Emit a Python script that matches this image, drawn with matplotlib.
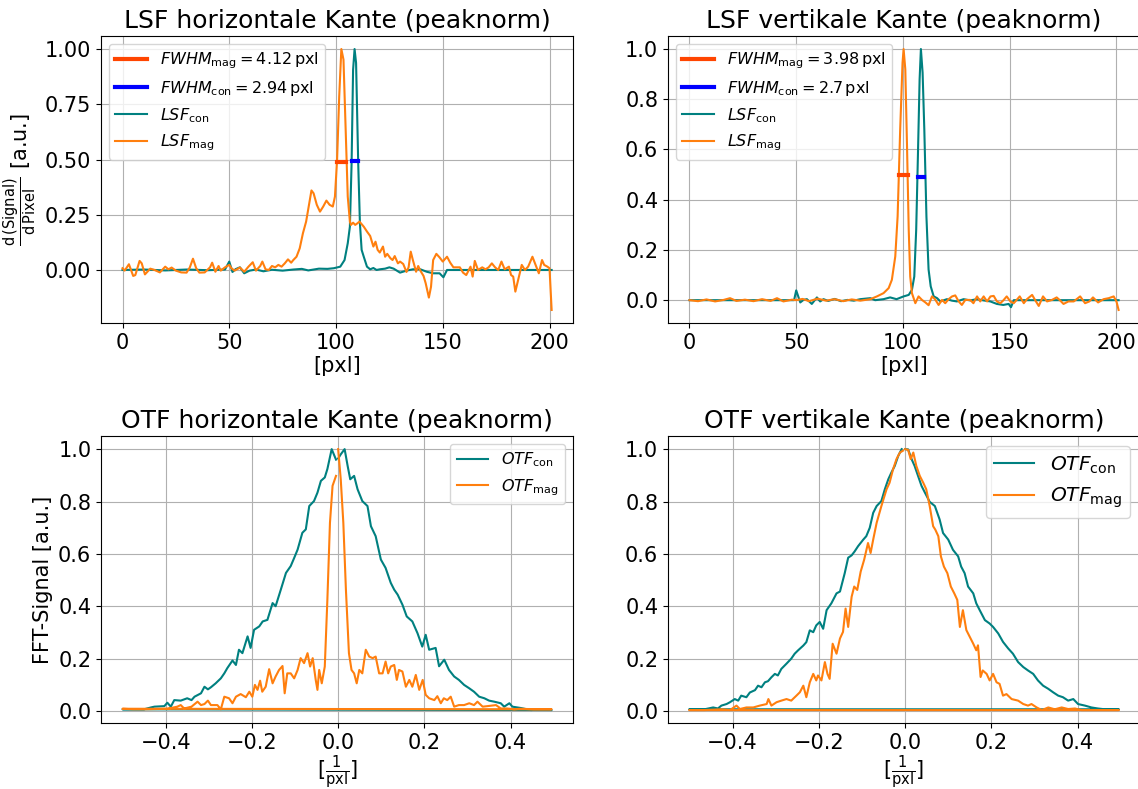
import matplotlib.pyplot as plt
import numpy as np
from matplotlib.ticker import MultipleLocator

# LSF horizontale Kante: (pixel, value)
lsf_h_con = [
    (0, 0.0), (10, 0.002), (20, -0.002), (30, 0.002), (40, -0.001), (48, 0.002), (50, 0.038),
    (51.5, -0.009), (53, 0.004), (55, 0.012), (57, -0.015), (59.5, -0.003), (62.5, 0.002),
    (66, -0.006), (70, 0.001), (75, -0.003), (80, 0.002), (84, 0.005), (87, -0.002), (92, 0.006),
    (96, 0.005), (99, 0.008), (102, 0.015), (104, 0.045), (105.5, 0.121), (106.5, 0.196),
    (107.3, 0.483), (108, 0.906), (108.7, 1.0), (109.4, 0.937), (110.4, 0.483), (111.2, 0.211),
    (112, 0.091), (113, 0.060), (114.5, 0.015), (116, 0.003), (117.5, 0.009), (119, 0.0),
    (120.5, 0.003), (123, 0.006), (125, 0.012), (127, 0.006), (130, -0.012), (133, -0.003),
    (136, 0.003), (139.5, 0.003), (142.5, -0.008), (145.5, -0.015), (148.5, -0.015),
    (150.3, -0.033), (152, 0.0), (201, 0.0),
]
lsf_h_mag = [
    (0, 0.008), (1, -0.003), (3, 0.026), (5, -0.027), (6, -0.023), (8, 0.041), (9, 0.030),
    (10.5, -0.020), (13, 0.006), (15, 0.0), (17.5, -0.011), (20, 0.015), (21.5, 0.003),
    (23, 0.011), (25, -0.003), (27.5, -0.011), (30, -0.012), (31.5, 0.011), (33, 0.051),
    (34.5, 0.008), (36, -0.012), (38.5, -0.011), (41, 0.012), (42, 0.033), (43.5, -0.008),
    (45, 0.018), (46, -0.003), (48, 0.012), (50, 0.023), (51, 0.008), (52.5, -0.003), (55, 0.011),
    (57, -0.008), (59, 0.015), (61, 0.035), (62.5, -0.003), (64.5, 0.018), (65.5, 0.038),
    (67, 0.003), (68.5, 0.0), (70, 0.018), (71.5, 0.012), (73, 0.023), (74.5, 0.015), (76, 0.030),
    (77.5, 0.048), (79, 0.033), (80, 0.045), (81.5, 0.060), (83, 0.098), (84.5, 0.166),
    (86, 0.219), (87.5, 0.302), (88.5, 0.360), (89.5, 0.347), (91, 0.295), (92.5, 0.264),
    (94, 0.287), (95.5, 0.314), (97, 0.295), (98.5, 0.287), (99.5, 0.332), (100.5, 0.498),
    (101.5, 0.785), (102.5, 1.0), (103.5, 0.952), (104.5, 0.634), (105.5, 0.332), (106.5, 0.219),
    (107, 0.204), (108, 0.214), (109, 0.204), (110, 0.211), (111, 0.219), (113, 0.196),
    (114.5, 0.174), (116, 0.154), (117.5, 0.106), (118.5, 0.128), (119.5, 0.091), (120.5, 0.079),
    (122, 0.106), (123, 0.060), (124, 0.073), (125.5, 0.053), (126.5, 0.045), (127.5, 0.063),
    (129, 0.030), (130, 0.038), (131.5, 0.027), (133, -0.009), (134, 0.012), (135, 0.083),
    (136, 0.045), (137.5, -0.008), (138.5, 0.018), (139.5, -0.003), (141, -0.027), (142, -0.060),
    (143.5, -0.125), (144.5, -0.076), (145.5, 0.045), (147, 0.073), (148.5, 0.057), (150, 0.038),
    (152, 0.060), (153.5, 0.033), (155, 0.012), (156.5, 0.012), (158, 0.012), (159.5, -0.012),
    (161, -0.023), (163, 0.015), (164, -0.030), (165, 0.041), (166.5, 0.0), (168.5, 0.012),
    (170, 0.003), (171.5, 0.012), (173, 0.030), (174.5, 0.012), (176, 0.0), (177.5, 0.038),
    (179, 0.003), (181, 0.015), (182, -0.023), (183, -0.030), (184, -0.098), (185.5, -0.038),
    (187, 0.023), (188.5, 0.0), (190, 0.015), (192, 0.060), (193.5, 0.023), (195, -0.015),
    (196.5, 0.045), (197.5, 0.023), (199, 0.015), (200, 0.008), (201, -0.181),
]

# LSF vertikale Kante
lsf_v_con = [
    (0, 0.0), (49, 0.0), (50, 0.039), (51.9, -0.009), (53.4, 0.001), (55, 0.004), (57.3, -0.015),
    (59.7, 0.011), (61.2, -0.005), (62.8, 0.004), (65, -0.003), (68, 0.005), (71, -0.004),
    (74, 0.001), (77, -0.002), (80, 0.004), (84.7, 0.008), (87, 0.0), (90.9, 0.004), (94, 0.011),
    (97, 0.004), (100.3, 0.015), (102.7, 0.021), (104.2, 0.041), (105.3, 0.094), (106.2, 0.281),
    (107, 0.573), (107.8, 0.879), (108.4, 1.0), (109.2, 0.906), (110, 0.680), (111, 0.332),
    (112, 0.122), (113, 0.055), (114.4, 0.015), (116, 0.008), (117.5, -0.005), (120.6, 0.004),
    (123, -0.002), (125.3, -0.005), (128.4, 0.004), (131.5, -0.001), (134.7, 0.004),
    (137.8, -0.001), (140.9, -0.005), (144, -0.015), (147, -0.019), (149.5, -0.015),
    (150.6, -0.028), (151.9, 0.0), (201, 0.0),
]
lsf_v_mag = [
    (0, 0.0), (4, -0.004), (8, 0.003), (12, -0.005), (16, 0.001), (19, 0.008), (22, -0.003),
    (26, 0.002), (30, -0.004), (34, 0.004), (38, -0.003), (41, 0.008), (44, -0.005), (48, 0.002),
    (50, 0.0), (53, 0.005), (56, -0.004), (60, 0.006), (64, -0.002), (68, 0.004), (72, -0.004),
    (76, 0.003), (80, -0.002), (84.7, 0.004), (87.8, 0.015), (90.9, 0.028), (93.3, 0.048),
    (94.8, 0.081), (96.4, 0.174), (97.5, 0.334), (98.7, 0.680), (99.8, 0.945), (100.3, 1.0),
    (101.1, 0.919), (101.9, 0.613), (102.7, 0.281), (103.4, 0.094), (104.2, 0.028),
    (105.8, -0.012), (107.3, 0.015), (108.9, 0.001), (110.5, -0.009), (112, -0.020),
    (113.6, 0.015), (115, 0.004), (116.7, -0.019), (118.3, 0.001), (119.8, -0.012),
    (121.4, 0.004), (123, 0.015), (124.5, 0.019), (126.1, -0.005), (127.6, -0.019),
    (129.2, 0.001), (131.5, 0.001), (133, -0.012), (134.7, 0.015), (136.2, -0.005),
    (137.8, 0.015), (139.4, -0.005), (141, 0.015), (142.5, 0.017), (144, -0.005),
    (145.6, -0.012), (147, -0.001), (148.6, 0.015), (150.3, -0.005), (151.9, -0.012),
    (154.7, 0.015), (156.6, -0.012), (158.1, 0.004), (160.5, 0.021), (162, -0.001),
    (163.6, -0.023), (165.6, 0.015), (167.5, -0.005), (169.8, 0.001), (172, 0.011),
    (173.6, -0.001), (175.2, -0.015), (177.5, -0.005), (180, -0.005), (183, 0.015),
    (185.3, -0.012), (187.3, -0.005), (189, 0.011), (191.4, -0.009), (194, 0.004),
    (196.4, 0.008), (198.7, 0.015), (200, -0.005), (201, -0.039),
]

# FWHM markers: (x_start, x_end, height)
fwhm_h_mag = (100.4, 104.5, 0.490)
fwhm_h_con = (107.3, 110.2, 0.495)
fwhm_v_mag = (98.3, 102.3, 0.497)
fwhm_v_con = (107.2, 109.9, 0.492)
fwhm_h_text = ('4.12', '2.94')
fwhm_v_text = ('3.98', '2.7')

# OTF horizontale Kante, positive and negative frequency branches (fft order)
otf_h_con_pos = [
    (0.0, 0.964), (0.006, 0.98), (0.015, 1.0), (0.022, 0.936), (0.028, 0.885), (0.037, 0.898),
    (0.045, 0.847), (0.056, 0.802), (0.068, 0.783), (0.076, 0.706), (0.087, 0.668),
    (0.099, 0.579), (0.11, 0.547), (0.122, 0.490), (0.13, 0.464), (0.138, 0.445),
    (0.149, 0.407), (0.159, 0.362), (0.172, 0.343), (0.184, 0.298), (0.195, 0.247),
    (0.203, 0.292), (0.211, 0.235), (0.226, 0.242), (0.234, 0.172), (0.246, 0.197),
    (0.257, 0.158), (0.269, 0.133), (0.28, 0.120), (0.292, 0.101), (0.304, 0.088),
    (0.315, 0.075), (0.327, 0.056), (0.339, 0.050), (0.35, 0.041), (0.362, 0.037),
    (0.377, 0.031), (0.385, 0.018), (0.397, 0.031), (0.404, 0.018), (0.423, 0.013),
    (0.447, 0.005), (0.47, 0.008), (0.495, 0.005),
]
otf_h_con_neg = [
    (-0.5, 0.008), (-0.475, 0.008), (-0.45, 0.008), (-0.434, 0.015), (-0.426, 0.018),
    (-0.403, 0.020), (-0.396, 0.033), (-0.388, 0.018), (-0.38, 0.043), (-0.365, 0.041),
    (-0.35, 0.050), (-0.34, 0.043), (-0.333, 0.056), (-0.318, 0.069), (-0.31, 0.094),
    (-0.302, 0.084), (-0.295, 0.092), (-0.284, 0.107), (-0.272, 0.126), (-0.264, 0.145),
    (-0.257, 0.165), (-0.245, 0.194), (-0.237, 0.177), (-0.23, 0.235), (-0.222, 0.222),
    (-0.21, 0.286), (-0.203, 0.242), (-0.195, 0.311), (-0.183, 0.324), (-0.175, 0.343),
    (-0.164, 0.349), (-0.152, 0.413), (-0.145, 0.401), (-0.133, 0.464), (-0.121, 0.528),
    (-0.11, 0.554), (-0.102, 0.585), (-0.094, 0.617), (-0.083, 0.681), (-0.075, 0.694),
    (-0.067, 0.783), (-0.056, 0.802), (-0.048, 0.834), (-0.04, 0.879), (-0.031, 0.892),
    (-0.025, 0.924), (-0.015, 1.0), (-0.005, 0.96),
]
otf_h_mag_pos = [
    (0.0, 1.0), (0.006, 0.885), (0.012, 0.719), (0.018, 0.464), (0.025, 0.222), (0.031, 0.158),
    (0.037, 0.145), (0.043, 0.107), (0.049, 0.158), (0.056, 0.145), (0.064, 0.235),
    (0.072, 0.209), (0.08, 0.203), (0.087, 0.209), (0.095, 0.145), (0.103, 0.145),
    (0.11, 0.190), (0.116, 0.145), (0.122, 0.171), (0.13, 0.177), (0.136, 0.120),
    (0.141, 0.158), (0.149, 0.152), (0.157, 0.094), (0.165, 0.120), (0.172, 0.094),
    (0.18, 0.139), (0.188, 0.082), (0.196, 0.120), (0.203, 0.063), (0.211, 0.050),
    (0.223, 0.043), (0.23, 0.058), (0.238, 0.031), (0.245, 0.050), (0.253, 0.043),
    (0.261, 0.056), (0.269, 0.018), (0.28, 0.024), (0.292, 0.024), (0.304, 0.031),
    (0.315, 0.024), (0.323, 0.037), (0.335, 0.018), (0.346, 0.020), (0.366, 0.024),
    (0.377, 0.011), (0.392, 0.011), (0.408, 0.008), (0.423, 0.010), (0.454, 0.008),
    (0.495, 0.008),
]
otf_h_mag_neg = [
    (-0.5, 0.010), (-0.475, 0.008), (-0.45, 0.008), (-0.396, 0.010), (-0.373, 0.018),
    (-0.365, 0.024), (-0.357, 0.011), (-0.34, 0.018), (-0.326, 0.037), (-0.318, 0.024),
    (-0.31, 0.028), (-0.302, 0.041), (-0.295, 0.024), (-0.28, 0.024), (-0.272, 0.008),
    (-0.264, 0.056), (-0.253, 0.050), (-0.245, 0.031), (-0.237, 0.056), (-0.226, 0.066),
    (-0.214, 0.054), (-0.206, 0.075), (-0.199, 0.056), (-0.193, 0.101), (-0.187, 0.082),
    (-0.181, 0.117), (-0.176, 0.075), (-0.168, 0.094), (-0.16, 0.161), (-0.152, 0.107),
    (-0.145, 0.133), (-0.137, 0.158), (-0.129, 0.173), (-0.124, 0.069), (-0.118, 0.145),
    (-0.11, 0.145), (-0.102, 0.126), (-0.094, 0.158), (-0.087, 0.203), (-0.079, 0.184),
    (-0.071, 0.222), (-0.065, 0.171), (-0.059, 0.203), (-0.052, 0.120), (-0.048, 0.082),
    (-0.044, 0.158), (-0.038, 0.107), (-0.031, 0.171), (-0.025, 0.426), (-0.019, 0.719),
    (-0.013, 0.860), (-0.005, 0.898),
]

# OTF vertikale Kante
otf_v_con_pos = [
    (0.0, 1.0), (0.007, 0.999), (0.015, 0.962), (0.022, 0.936), (0.03, 0.898), (0.038, 0.860),
    (0.046, 0.834), (0.057, 0.799), (0.069, 0.783), (0.08, 0.732), (0.088, 0.680),
    (0.1, 0.655), (0.111, 0.616), (0.123, 0.591), (0.13, 0.552), (0.138, 0.527),
    (0.146, 0.476), (0.158, 0.450), (0.165, 0.412), (0.173, 0.386), (0.185, 0.348),
    (0.196, 0.335), (0.204, 0.322), (0.216, 0.297), (0.227, 0.265), (0.239, 0.240),
    (0.25, 0.220), (0.262, 0.188), (0.274, 0.169), (0.285, 0.156), (0.297, 0.143),
    (0.308, 0.118), (0.32, 0.098), (0.332, 0.086), (0.343, 0.073), (0.355, 0.060),
    (0.366, 0.054), (0.378, 0.041), (0.39, 0.047), (0.401, 0.028), (0.417, 0.022),
    (0.432, 0.015), (0.447, 0.011), (0.463, 0.008), (0.495, 0.008),
]
otf_v_con_neg = [
    (-0.5, 0.008), (-0.465, 0.008), (-0.445, 0.015), (-0.434, 0.011), (-0.426, 0.022),
    (-0.414, 0.028), (-0.406, 0.035), (-0.395, 0.047), (-0.387, 0.041), (-0.38, 0.060),
    (-0.368, 0.054), (-0.36, 0.072), (-0.348, 0.081), (-0.341, 0.098), (-0.333, 0.092),
    (-0.325, 0.111), (-0.318, 0.115), (-0.31, 0.130), (-0.302, 0.143), (-0.295, 0.137),
    (-0.287, 0.162), (-0.275, 0.182), (-0.264, 0.201), (-0.256, 0.220), (-0.248, 0.233),
    (-0.236, 0.251), (-0.229, 0.264), (-0.221, 0.309), (-0.213, 0.302), (-0.206, 0.328),
    (-0.198, 0.341), (-0.19, 0.315), (-0.182, 0.386), (-0.171, 0.412), (-0.159, 0.450),
    (-0.151, 0.457), (-0.14, 0.527), (-0.132, 0.586), (-0.124, 0.595), (-0.117, 0.610),
    (-0.109, 0.630), (-0.097, 0.655), (-0.09, 0.668), (-0.082, 0.700), (-0.074, 0.757),
    (-0.066, 0.783), (-0.055, 0.802), (-0.047, 0.847), (-0.039, 0.885), (-0.032, 0.910),
    (-0.024, 0.936), (-0.016, 0.974), (-0.008, 1.0),
]
otf_v_mag_pos = [
    (0.0, 1.0), (0.007, 0.997), (0.013, 0.962), (0.019, 0.987), (0.026, 0.936), (0.034, 0.898),
    (0.042, 0.872), (0.049, 0.847), (0.057, 0.783), (0.065, 0.706), (0.07, 0.693),
    (0.077, 0.668), (0.083, 0.591), (0.09, 0.552), (0.098, 0.527), (0.106, 0.476),
    (0.114, 0.450), (0.121, 0.425), (0.127, 0.322), (0.134, 0.386), (0.142, 0.310),
    (0.15, 0.284), (0.158, 0.258), (0.165, 0.233), (0.169, 0.252), (0.175, 0.131),
    (0.18, 0.156), (0.189, 0.143), (0.196, 0.118), (0.204, 0.143), (0.212, 0.111),
    (0.219, 0.105), (0.227, 0.060), (0.235, 0.066), (0.247, 0.047), (0.262, 0.041),
    (0.274, 0.028), (0.285, 0.022), (0.293, 0.028), (0.305, 0.015), (0.317, 0.005),
    (0.332, 0.015), (0.347, 0.008), (0.363, 0.015), (0.378, 0.009), (0.394, 0.011),
    (0.409, 0.005), (0.432, 0.005), (0.495, 0.005),
]
otf_v_mag_neg = [
    (-0.5, 0.005), (-0.465, 0.005), (-0.426, 0.008), (-0.406, 0.005), (-0.391, 0.022),
    (-0.383, 0.009), (-0.368, 0.015), (-0.352, 0.015), (-0.337, 0.022), (-0.321, 0.028),
    (-0.317, 0.047), (-0.31, 0.022), (-0.298, 0.035), (-0.287, 0.041), (-0.275, 0.047),
    (-0.264, 0.041), (-0.252, 0.060), (-0.244, 0.073), (-0.236, 0.098), (-0.229, 0.054),
    (-0.221, 0.111), (-0.213, 0.143), (-0.206, 0.118), (-0.202, 0.137), (-0.194, 0.118),
    (-0.186, 0.188), (-0.18, 0.143), (-0.175, 0.124), (-0.168, 0.258), (-0.159, 0.220),
    (-0.151, 0.278), (-0.144, 0.303), (-0.138, 0.392), (-0.132, 0.322), (-0.124, 0.437),
    (-0.118, 0.476), (-0.111, 0.463), (-0.103, 0.533), (-0.095, 0.578), (-0.086, 0.642),
    (-0.08, 0.604), (-0.074, 0.655), (-0.066, 0.719), (-0.055, 0.783), (-0.043, 0.847),
    (-0.036, 0.872), (-0.028, 0.923), (-0.02, 0.962), (-0.012, 0.987), (-0.005, 0.994),
]


def xy(pairs):
    a = np.array(pairs, dtype=float)
    return a[:, 0], a[:, 1]


def fft_order(pos, neg):
    # plotted in fft order (positive freqs first), as the original did
    return xy(pos + neg)


TS = 15
fig = plt.figure(figsize=(11.38, 7.89))
ax_lh = fig.add_axes([0.0888, 0.5906, 0.4148, 0.3638])
ax_lv = fig.add_axes([0.587, 0.5906, 0.4148, 0.3638])
ax_oh = fig.add_axes([0.0888, 0.0835, 0.4148, 0.3638])
ax_ov = fig.add_axes([0.587, 0.0835, 0.4148, 0.3638])


def lsf_panel(ax, con, mag, f_mag, f_con, f_txt, title):
    ax.plot(*xy(con), color='teal', lw=1.5, label=r'$LSF_\mathrm{con}$')
    ax.plot(*xy(mag), color='tab:orange', lw=1.5, label=r'$LSF_\mathrm{mag}$')
    h1, = ax.plot(f_mag[:2], [f_mag[2]] * 2, color='orangered', lw=3, zorder=3,
                  label=r'$FWHM_\mathrm{mag} = %s\,\mathrm{pxl}$' % f_txt[0])
    h2, = ax.plot(f_con[:2], [f_con[2]] * 2, color='blue', lw=3, zorder=3,
                  label=r'$FWHM_\mathrm{con} = %s\,\mathrm{pxl}$' % f_txt[1])
    lines = ax.get_lines()
    ax.legend(handles=[h1, h2, lines[0], lines[1]], loc='upper left', fontsize=11.5)
    ax.set_title(title, fontsize=18)
    ax.set_xlabel('[pxl]', fontsize=TS, labelpad=2)
    ax.tick_params(labelsize=TS)
    ax.grid(True)


lsf_panel(ax_lh, lsf_h_con, lsf_h_mag, fwhm_h_mag, fwhm_h_con, fwhm_h_text,
          'LSF horizontale Kante (peaknorm)')
ax_lh.yaxis.set_major_locator(MultipleLocator(0.25))
ax_lh.set_ylabel(r'$\frac{\mathrm{d\,(Signal)}}{\mathrm{d\,Pixel}}$ [a.u.]', fontsize=TS)
lsf_panel(ax_lv, lsf_v_con, lsf_v_mag, fwhm_v_mag, fwhm_v_con, fwhm_v_text,
          'LSF vertikale Kante (peaknorm)')


def otf_panel(ax, con, mag, title, legsize):
    ax.plot(*fft_order(*con), color='teal', lw=1.5, label=r'$OTF_\mathrm{con}$')
    ax.plot(*fft_order(*mag), color='tab:orange', lw=1.5, label=r'$OTF_\mathrm{mag}$')
    ax.legend(loc='upper right', fontsize=legsize)
    ax.set_title(title, fontsize=18)
    ax.set_xlabel(r'[$\frac{1}{\mathrm{pxl}}$]', fontsize=TS, labelpad=0)
    ax.tick_params(labelsize=TS)
    ax.grid(True)


otf_panel(ax_oh, (otf_h_con_pos, otf_h_con_neg), (otf_h_mag_pos, otf_h_mag_neg),
          'OTF horizontale Kante (peaknorm)', 11.5)
ax_oh.set_ylabel('FFT-Signal [a.u.]', fontsize=TS)
otf_panel(ax_ov, (otf_v_con_pos, otf_v_con_neg), (otf_v_mag_pos, otf_v_mag_neg),
          'OTF vertikale Kante (peaknorm)', 14.5)

fig.savefig('out.png', dpi=100)
